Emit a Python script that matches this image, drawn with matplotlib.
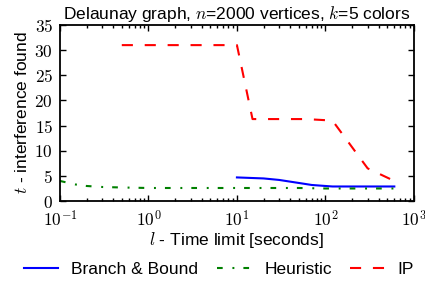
import matplotlib
matplotlib.use("Agg")
import matplotlib.pyplot as plt
from matplotlib.ticker import LogLocator, NullFormatter, FixedLocator

plt.rcParams['font.family'] = ['Liberation Sans', 'DejaVu Sans']
plt.rcParams['mathtext.fontset'] = 'cm'
plt.rcParams['lines.scale_dashes'] = False

# data
bb_t = [10, 20, 30, 50, 70, 100, 120, 200, 300, 600]
bb_v = [4.7, 4.5, 4.2, 3.6, 3.2, 3.0, 2.9, 2.9, 2.9, 2.9]

heur_t = [0.1, 0.15, 0.2, 0.3, 0.5, 1, 2, 5, 10, 20, 50, 100, 200, 600]
heur_v = [4.0, 3.3, 3.0, 2.8, 2.7, 2.6, 2.6, 2.6, 2.6, 2.6, 2.6, 2.5, 2.5, 2.5]

ip_t = [0.5, 1, 2, 5, 10, 15, 30, 60, 120, 300, 600]
ip_v = [31, 31, 31, 31, 31, 16.3, 16.3, 16.3, 16.0, 6.5, 4.0]

xticks = [0.1, 1, 10, 100, 1000]
xlabels = [r'$10^{-1}$', r'$10^{0}$', r'$10^{1}$', r'$10^{2}$', r'$10^{3}$']
yticks = [0, 5, 10, 15, 20, 25, 30, 35]

fig = plt.figure(figsize=(4.25, 2.84), dpi=100)
ax = fig.add_axes([0.141, 0.292, 0.833, 0.62])

ax.plot(bb_t, bb_v, color='b', lw=1.5, label='Branch & Bound')
ax.plot(heur_t, heur_v, color='g', lw=1.5, ls='-.', dashes=(4.1, 7, 1.4, 6.5), label='Heuristic')
ax.plot(ip_t, ip_v, color='r', lw=1.5, ls='--', dashes=(8, 8.5), label='IP')

ax.set_xscale('log')
ax.set_xlim(0.1, 1000)
ax.set_ylim(0, 35)
ax.xaxis.set_major_locator(FixedLocator(xticks))
ax.set_xticklabels(xlabels)
ax.set_yticks(yticks)
ax.set_yticklabels([r'$%d$' % v for v in yticks])
ax.xaxis.set_minor_locator(LogLocator(base=10, subs=range(2, 10)))
ax.xaxis.set_minor_formatter(NullFormatter())
ax.tick_params(which='both', direction='in', top=True, right=True, labelsize=12.5)
ax.tick_params(which='major', length=4.5, width=1, pad=5)
ax.tick_params(which='minor', length=2.5, width=1)
ax.tick_params(axis='x', which='major', pad=6)
for s in ax.spines.values():
    s.set_linewidth(1.3)

ax.set_title(r'Delaunay graph, $n$=2000 vertices, $k$=5 colors', fontsize=12.5, pad=4)
ax.set_xlabel(r'$l$ - Time limit [seconds]', fontsize=12.5, labelpad=0)
ax.set_ylabel(r'$t$ - interference found', fontsize=12.5, labelpad=3)

fig.legend(loc='lower center', ncol=3, frameon=False, fontsize=12.5,
           bbox_to_anchor=(0.515, -0.03), handlelength=2.0, handletextpad=0.75,
           columnspacing=1.05)

fig.savefig('out.png', dpi=100)
